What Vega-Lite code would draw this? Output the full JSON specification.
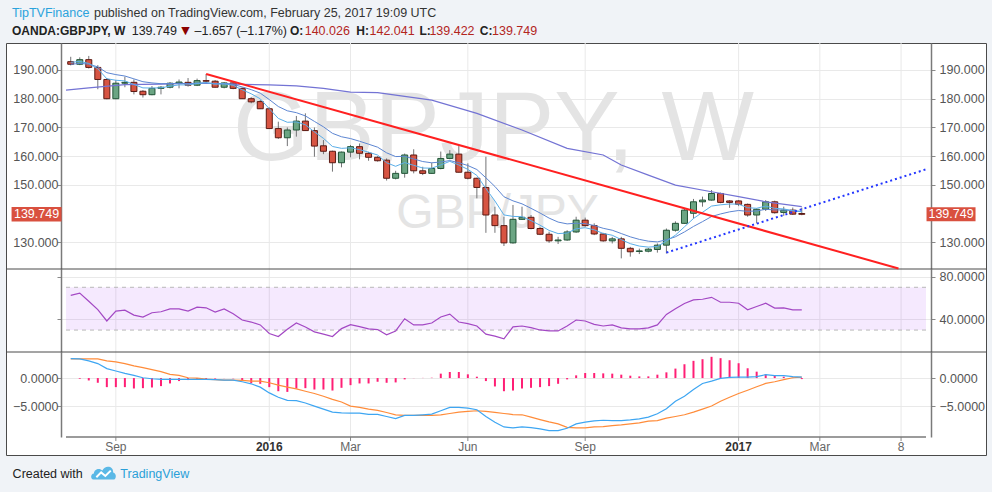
{
  "$schema": "https://vega.github.io/schema/vega-lite/v6.json",
  "width": 980,
  "height": 412,
  "autosize": {"type": "none"},
  "padding": {"left": 6, "top": 43, "right": 6, "bottom": 37},
  "background": "#f0f3f7",
  "data": {"values": [{}]},
  "datasets": {
    "bars": [
      {"date": "2015-08-03", "open": 192.9, "high": 194.6, "low": 191.6, "close": 192.0, "ema5": 192.67, "ema10": 192.0, "rsi": 62.5, "macd": 3.43, "signal": 3.40, "hist": 0},
      {"date": "2015-08-10", "open": 192.0, "high": 194.4, "low": 191.7, "close": 193.6, "ema5": 192.98, "ema10": 192.29, "rsi": 64.6, "macd": 3.40, "signal": 3.40, "hist": -0.12},
      {"date": "2015-08-17", "open": 193.6, "high": 194.9, "low": 190.5, "close": 190.9, "ema5": 192.29, "ema10": 192.04, "rsi": 56.9, "macd": 3.04, "signal": 3.40, "hist": -0.42},
      {"date": "2015-08-24", "open": 190.9, "high": 191.7, "low": 183.3, "close": 186.7, "ema5": 190.43, "ema10": 191.07, "rsi": 49.2, "macd": 2.56, "signal": 3.40, "hist": -0.83},
      {"date": "2015-08-31", "open": 186.7, "high": 187.2, "low": 179.8, "close": 180.0, "ema5": 186.95, "ema10": 189.06, "rsi": 38.5, "macd": 1.67, "signal": 3.04, "hist": -1.60},
      {"date": "2015-09-07", "open": 180.0, "high": 186.5, "low": 179.8, "close": 185.4, "ema5": 186.43, "ema10": 188.39, "rsi": 47.7, "macd": 1.25, "signal": 2.86, "hist": -1.60},
      {"date": "2015-09-14", "open": 185.4, "high": 187.7, "low": 184.0, "close": 185.7, "ema5": 186.19, "ema10": 187.90, "rsi": 48.6, "macd": 0.84, "signal": 2.56, "hist": -1.60},
      {"date": "2015-09-21", "open": 185.7, "high": 186.7, "low": 181.5, "close": 182.5, "ema5": 184.96, "ema10": 186.92, "rsi": 44.0, "macd": 0.48, "signal": 2.15, "hist": -1.84},
      {"date": "2015-09-28", "open": 182.6, "high": 183.0, "low": 180.4, "close": 181.4, "ema5": 183.77, "ema10": 185.92, "rsi": 42.1, "macd": 0.06, "signal": 1.85, "hist": -1.78},
      {"date": "2015-10-05", "open": 181.4, "high": 184.4, "low": 181.2, "close": 183.6, "ema5": 183.71, "ema10": 185.50, "rsi": 46.2, "macd": -0.12, "signal": 1.49, "hist": -1.66},
      {"date": "2015-10-12", "open": 183.6, "high": 184.4, "low": 181.5, "close": 184.0, "ema5": 183.81, "ema10": 185.23, "rsi": 47.1, "macd": -0.23, "signal": 1.13, "hist": -1.42},
      {"date": "2015-10-19", "open": 184.0, "high": 185.8, "low": 183.6, "close": 185.4, "ema5": 184.34, "ema10": 185.26, "rsi": 49.8, "macd": -0.23, "signal": 0.66, "hist": -0.95},
      {"date": "2015-10-26", "open": 185.4, "high": 186.7, "low": 183.6, "close": 185.8, "ema5": 184.83, "ema10": 185.36, "rsi": 49.8, "macd": -0.23, "signal": 0.48, "hist": -0.53},
      {"date": "2015-11-02", "open": 185.7, "high": 187.2, "low": 184.2, "close": 184.7, "ema5": 184.79, "ema10": 185.24, "rsi": 47.7, "macd": -0.23, "signal": 0.06, "hist": -0.35},
      {"date": "2015-11-09", "open": 184.7, "high": 187.0, "low": 184.4, "close": 186.3, "ema5": 185.29, "ema10": 185.43, "rsi": 51.4, "macd": -0.23, "signal": 0.00, "hist": -0.29},
      {"date": "2015-11-16", "open": 186.3, "high": 188.6, "low": 185.4, "close": 186.1, "ema5": 185.56, "ema10": 185.55, "rsi": 50.8, "macd": -0.23, "signal": -0.18, "hist": -0.20},
      {"date": "2015-11-23", "open": 186.1, "high": 186.5, "low": 183.9, "close": 184.0, "ema5": 185.04, "ema10": 185.27, "rsi": 46.8, "macd": -0.29, "signal": -0.29, "hist": -0.10},
      {"date": "2015-11-30", "open": 184.0, "high": 185.8, "low": 183.6, "close": 185.5, "ema5": 185.19, "ema10": 185.31, "rsi": 49.8, "macd": -0.35, "signal": -0.35, "hist": -0.02},
      {"date": "2015-12-07", "open": 185.5, "high": 186.1, "low": 183.3, "close": 183.6, "ema5": 184.66, "ema10": 185.00, "rsi": 45.2, "macd": -0.35, "signal": -0.35, "hist": -0.05},
      {"date": "2015-12-14", "open": 183.6, "high": 183.9, "low": 179.9, "close": 180.0, "ema5": 183.11, "ema10": 184.09, "rsi": 39.4, "macd": -0.65, "signal": -0.41, "hist": -0.42},
      {"date": "2015-12-21", "open": 180.0, "high": 180.5, "low": 178.4, "close": 178.9, "ema5": 181.71, "ema10": 183.15, "rsi": 37.5, "macd": -1.01, "signal": -0.53, "hist": -0.89},
      {"date": "2015-12-28", "open": 179.0, "high": 179.6, "low": 176.4, "close": 176.5, "ema5": 179.97, "ema10": 181.94, "rsi": 34.8, "macd": -1.60, "signal": -0.53, "hist": -1.01},
      {"date": "2016-01-04", "open": 176.5, "high": 177.0, "low": 169.5, "close": 169.6, "ema5": 176.51, "ema10": 179.70, "rsi": 26.8, "macd": -2.62, "signal": -0.83, "hist": -1.60},
      {"date": "2016-01-11", "open": 169.6, "high": 172.0, "low": 166.0, "close": 166.4, "ema5": 173.14, "ema10": 177.28, "rsi": 24.0, "macd": -3.39, "signal": -1.25, "hist": -2.32},
      {"date": "2016-01-18", "open": 166.4, "high": 170.0, "low": 163.5, "close": 169.1, "ema5": 171.79, "ema10": 175.79, "rsi": 30.8, "macd": -3.93, "signal": -1.60, "hist": -2.44},
      {"date": "2016-01-25", "open": 169.1, "high": 174.0, "low": 166.8, "close": 172.2, "ema5": 171.93, "ema10": 175.14, "rsi": 36.6, "macd": -3.98, "signal": -1.90, "hist": -1.84},
      {"date": "2016-02-01", "open": 172.2, "high": 174.9, "low": 168.8, "close": 168.9, "ema5": 170.92, "ema10": 174.01, "rsi": 32.9, "macd": -4.40, "signal": -2.32, "hist": -1.78},
      {"date": "2016-02-08", "open": 168.9, "high": 170.0, "low": 159.8, "close": 163.5, "ema5": 168.45, "ema10": 172.10, "rsi": 28.3, "macd": -4.94, "signal": -2.73, "hist": -2.02},
      {"date": "2016-02-15", "open": 163.6, "high": 165.6, "low": 160.7, "close": 161.7, "ema5": 166.20, "ema10": 170.21, "rsi": 26.2, "macd": -5.47, "signal": -3.21, "hist": -2.02},
      {"date": "2016-02-22", "open": 161.7, "high": 161.9, "low": 154.6, "close": 157.7, "ema5": 163.37, "ema10": 167.94, "rsi": 24.0, "macd": -6.01, "signal": -3.75, "hist": -2.20},
      {"date": "2016-02-29", "open": 157.7, "high": 161.6, "low": 156.1, "close": 161.4, "ema5": 162.71, "ema10": 166.75, "rsi": 31.4, "macd": -6.13, "signal": -4.22, "hist": -1.72},
      {"date": "2016-03-07", "open": 161.4, "high": 163.9, "low": 159.6, "close": 163.3, "ema5": 162.91, "ema10": 166.12, "rsi": 35.1, "macd": -6.19, "signal": -4.94, "hist": -1.25},
      {"date": "2016-03-14", "open": 163.3, "high": 164.4, "low": 158.9, "close": 161.0, "ema5": 162.27, "ema10": 165.19, "rsi": 33.2, "macd": -6.19, "signal": -5.17, "hist": -0.95},
      {"date": "2016-03-21", "open": 161.0, "high": 161.5, "low": 158.4, "close": 159.6, "ema5": 161.38, "ema10": 164.17, "rsi": 31.1, "macd": -6.42, "signal": -5.47, "hist": -0.95},
      {"date": "2016-03-28", "open": 159.6, "high": 160.0, "low": 158.1, "close": 158.4, "ema5": 160.39, "ema10": 163.12, "rsi": 30.5, "macd": -6.42, "signal": -5.71, "hist": -0.65},
      {"date": "2016-04-04", "open": 158.6, "high": 159.2, "low": 151.5, "close": 152.3, "ema5": 157.69, "ema10": 161.15, "rsi": 25.5, "macd": -6.78, "signal": -6.07, "hist": -0.83},
      {"date": "2016-04-11", "open": 152.3, "high": 154.9, "low": 151.9, "close": 154.0, "ema5": 156.46, "ema10": 159.85, "rsi": 29.2, "macd": -7.14, "signal": -6.48, "hist": -0.77},
      {"date": "2016-04-18", "open": 154.0, "high": 160.9, "low": 152.5, "close": 160.4, "ema5": 157.77, "ema10": 159.95, "rsi": 40.6, "macd": -6.60, "signal": -6.60, "hist": -0.23},
      {"date": "2016-04-25", "open": 160.4, "high": 162.4, "low": 154.0, "close": 154.9, "ema5": 156.81, "ema10": 159.03, "rsi": 34.8, "macd": -6.60, "signal": -6.60, "hist": -0.02},
      {"date": "2016-05-02", "open": 154.9, "high": 156.3, "low": 153.4, "close": 154.0, "ema5": 155.87, "ema10": 158.12, "rsi": 34.8, "macd": -6.48, "signal": -6.60, "hist": 0.03},
      {"date": "2016-05-09", "open": 154.0, "high": 157.7, "low": 153.8, "close": 155.7, "ema5": 155.81, "ema10": 157.68, "rsi": 36.6, "macd": -6.36, "signal": -6.60, "hist": 0.06},
      {"date": "2016-05-16", "open": 155.7, "high": 161.6, "low": 155.4, "close": 159.2, "ema5": 156.94, "ema10": 157.96, "rsi": 42.2, "macd": -5.77, "signal": -6.48, "hist": 0.78},
      {"date": "2016-05-23", "open": 159.2, "high": 162.1, "low": 158.9, "close": 160.7, "ema5": 158.19, "ema10": 158.46, "rsi": 44.9, "macd": -5.17, "signal": -6.25, "hist": 1.07},
      {"date": "2016-05-30", "open": 160.7, "high": 163.5, "low": 154.3, "close": 154.4, "ema5": 156.93, "ema10": 157.72, "rsi": 37.5, "macd": -5.17, "signal": -6.01, "hist": 1.07},
      {"date": "2016-06-06", "open": 154.4, "high": 157.5, "low": 151.9, "close": 152.3, "ema5": 155.39, "ema10": 156.73, "rsi": 36.0, "macd": -5.29, "signal": -5.89, "hist": 0.66},
      {"date": "2016-06-13", "open": 152.3, "high": 152.5, "low": 145.3, "close": 149.1, "ema5": 153.29, "ema10": 155.34, "rsi": 33.8, "macd": -5.59, "signal": -5.77, "hist": 0.24},
      {"date": "2016-06-20", "open": 149.1, "high": 159.8, "low": 133.3, "close": 139.5, "ema5": 148.69, "ema10": 152.46, "rsi": 26.2, "macd": -6.78, "signal": -5.89, "hist": -0.53},
      {"date": "2016-06-27", "open": 139.5, "high": 142.4, "low": 133.3, "close": 135.8, "ema5": 144.39, "ema10": 149.43, "rsi": 24.3, "macd": -7.79, "signal": -6.07, "hist": -1.48},
      {"date": "2016-07-04", "open": 135.8, "high": 138.9, "low": 128.7, "close": 129.8, "ema5": 139.53, "ema10": 145.86, "rsi": 21.8, "macd": -8.63, "signal": -6.25, "hist": -2.32},
      {"date": "2016-07-11", "open": 129.8, "high": 143.0, "low": 129.5, "close": 138.0, "ema5": 139.02, "ema10": 144.43, "rsi": 33.0, "macd": -8.78, "signal": -6.44, "hist": -2.20},
      {"date": "2016-07-18", "open": 138.0, "high": 142.4, "low": 137.8, "close": 138.7, "ema5": 138.91, "ema10": 143.39, "rsi": 33.8, "macd": -8.63, "signal": -6.48, "hist": -1.84},
      {"date": "2016-07-25", "open": 138.7, "high": 139.5, "low": 134.5, "close": 134.8, "ema5": 137.54, "ema10": 141.83, "rsi": 32.3, "macd": -8.75, "signal": -6.90, "hist": -1.72},
      {"date": "2016-08-01", "open": 134.8, "high": 135.4, "low": 132.5, "close": 132.8, "ema5": 135.96, "ema10": 140.19, "rsi": 30.1, "macd": -8.98, "signal": -7.32, "hist": -1.60},
      {"date": "2016-08-08", "open": 132.8, "high": 133.7, "low": 129.8, "close": 130.5, "ema5": 134.14, "ema10": 138.43, "rsi": 29.2, "macd": -9.28, "signal": -7.73, "hist": -1.42},
      {"date": "2016-08-15", "open": 130.5, "high": 131.9, "low": 129.4, "close": 130.8, "ema5": 133.03, "ema10": 137.04, "rsi": 29.2, "macd": -9.28, "signal": -8.09, "hist": -1.01},
      {"date": "2016-08-22", "open": 130.8, "high": 134.2, "low": 130.5, "close": 133.6, "ema5": 133.22, "ema10": 136.41, "rsi": 33.8, "macd": -8.86, "signal": -8.69, "hist": -0.23},
      {"date": "2016-08-29", "open": 133.6, "high": 138.9, "low": 133.3, "close": 137.7, "ema5": 134.71, "ema10": 136.64, "rsi": 39.4, "macd": -8.09, "signal": -8.80, "hist": 0.48},
      {"date": "2016-09-05", "open": 137.7, "high": 138.6, "low": 135.4, "close": 135.8, "ema5": 135.07, "ema10": 136.49, "rsi": 38.5, "macd": -7.79, "signal": -8.80, "hist": 0.89},
      {"date": "2016-09-12", "open": 135.8, "high": 136.6, "low": 132.5, "close": 132.9, "ema5": 134.35, "ema10": 135.84, "rsi": 35.4, "macd": -7.55, "signal": -8.63, "hist": 0.89},
      {"date": "2016-09-19", "open": 132.9, "high": 133.3, "low": 130.2, "close": 130.5, "ema5": 133.07, "ema10": 134.87, "rsi": 33.8, "macd": -7.44, "signal": -8.57, "hist": 0.83},
      {"date": "2016-09-26", "open": 130.5, "high": 131.9, "low": 129.6, "close": 131.2, "ema5": 132.45, "ema10": 134.20, "rsi": 34.8, "macd": -7.50, "signal": -8.39, "hist": 0.78},
      {"date": "2016-10-03", "open": 131.2, "high": 131.9, "low": 124.4, "close": 127.9, "ema5": 130.93, "ema10": 133.05, "rsi": 32.0, "macd": -7.50, "signal": -8.27, "hist": 0.60},
      {"date": "2016-10-10", "open": 127.9, "high": 128.4, "low": 125.0, "close": 126.7, "ema5": 129.52, "ema10": 131.90, "rsi": 31.1, "macd": -7.38, "signal": -8.09, "hist": 0.42},
      {"date": "2016-10-17", "open": 126.8, "high": 127.8, "low": 125.9, "close": 127.0, "ema5": 128.68, "ema10": 131.01, "rsi": 31.1, "macd": -7.20, "signal": -7.91, "hist": 0.30},
      {"date": "2016-10-24", "open": 126.9, "high": 128.0, "low": 126.5, "close": 127.6, "ema5": 128.32, "ema10": 130.39, "rsi": 32.0, "macd": -6.90, "signal": -7.61, "hist": 0.30},
      {"date": "2016-10-31", "open": 127.5, "high": 129.6, "low": 126.4, "close": 129.0, "ema5": 128.55, "ema10": 130.14, "rsi": 34.8, "macd": -6.31, "signal": -7.50, "hist": 0.60},
      {"date": "2016-11-07", "open": 129.0, "high": 134.8, "low": 126.1, "close": 134.2, "ema5": 130.43, "ema10": 130.88, "rsi": 44.6, "macd": -5.41, "signal": -7.08, "hist": 1.01},
      {"date": "2016-11-14", "open": 134.2, "high": 137.3, "low": 133.7, "close": 136.6, "ema5": 132.49, "ema10": 131.92, "rsi": 49.9, "macd": -4.10, "signal": -6.78, "hist": 1.67},
      {"date": "2016-11-21", "open": 136.6, "high": 141.7, "low": 136.4, "close": 141.2, "ema5": 135.39, "ema10": 133.61, "rsi": 54.8, "macd": -3.21, "signal": -6.48, "hist": 2.44},
      {"date": "2016-11-28", "open": 140.1, "high": 145.1, "low": 138.3, "close": 144.1, "ema5": 138.29, "ema10": 135.52, "rsi": 58.2, "macd": -2.02, "signal": -6.01, "hist": 3.04},
      {"date": "2016-12-05", "open": 144.1, "high": 145.9, "low": 142.4, "close": 144.7, "ema5": 140.43, "ema10": 137.19, "rsi": 58.8, "macd": -0.95, "signal": -5.47, "hist": 3.33},
      {"date": "2016-12-12", "open": 144.7, "high": 148.2, "low": 144.5, "close": 147.0, "ema5": 142.62, "ema10": 138.97, "rsi": 60.6, "macd": -0.53, "signal": -4.94, "hist": 3.75},
      {"date": "2016-12-19", "open": 147.0, "high": 147.3, "low": 143.6, "close": 143.9, "ema5": 143.05, "ema10": 139.87, "rsi": 56.0, "macd": -0.06, "signal": -4.10, "hist": 3.51},
      {"date": "2016-12-26", "open": 144.4, "high": 144.7, "low": 142.0, "close": 143.9, "ema5": 143.33, "ema10": 140.60, "rsi": 56.0, "macd": 0.12, "signal": -3.39, "hist": 3.15},
      {"date": "2017-01-02", "open": 144.4, "high": 144.7, "low": 142.6, "close": 143.2, "ema5": 143.29, "ema10": 141.07, "rsi": 55.1, "macd": 0.18, "signal": -2.73, "hist": 2.62},
      {"date": "2017-01-09", "open": 143.2, "high": 143.5, "low": 138.9, "close": 139.5, "ema5": 142.03, "ema10": 140.78, "rsi": 48.9, "macd": 0.18, "signal": -2.14, "hist": 1.73},
      {"date": "2017-01-16", "open": 139.5, "high": 141.8, "low": 136.6, "close": 141.5, "ema5": 141.85, "ema10": 140.91, "rsi": 52.0, "macd": 0.24, "signal": -1.54, "hist": 1.13},
      {"date": "2017-01-23", "open": 141.5, "high": 144.7, "low": 140.9, "close": 144.1, "ema5": 142.60, "ema10": 141.49, "rsi": 55.1, "macd": 0.60, "signal": -0.95, "hist": 0.66},
      {"date": "2017-01-30", "open": 144.1, "high": 144.5, "low": 140.0, "close": 140.3, "ema5": 141.83, "ema10": 141.27, "rsi": 50.5, "macd": 0.42, "signal": -0.65, "hist": 0.48},
      {"date": "2017-02-06", "open": 140.4, "high": 142.4, "low": 139.2, "close": 141.2, "ema5": 141.62, "ema10": 141.26, "rsi": 50.8, "macd": 0.42, "signal": -0.29, "hist": 0.24},
      {"date": "2017-02-13", "open": 141.2, "high": 142.1, "low": 139.5, "close": 139.8, "ema5": 141.01, "ema10": 140.99, "rsi": 48.9, "macd": 0.24, "signal": 0.06, "hist": 0.06},
      {"date": "2017-02-20", "open": 140.026, "high": 142.041, "low": 139.422, "close": 139.749, "ema5": 140.59, "ema10": 140.76, "rsi": 48.9, "macd": 0.18, "signal": 0.18, "hist": -0.18}
    ],
    "slow": [
      {"date": "2015-07-30T08:00:00Z", "v": 183.0},
      {"date": "2015-08-17", "v": 183.8},
      {"date": "2015-09-14", "v": 184.9},
      {"date": "2015-10-12", "v": 185.1},
      {"date": "2015-11-02", "v": 185.3},
      {"date": "2015-11-23", "v": 185.3},
      {"date": "2015-12-14", "v": 185.0},
      {"date": "2016-01-04", "v": 184.8},
      {"date": "2016-01-25", "v": 184.5},
      {"date": "2016-02-15", "v": 183.6},
      {"date": "2016-03-07", "v": 182.3},
      {"date": "2016-03-28", "v": 182.1},
      {"date": "2016-04-18", "v": 180.8},
      {"date": "2016-05-09", "v": 179.5},
      {"date": "2016-06-13", "v": 174.9},
      {"date": "2016-07-18", "v": 169.1},
      {"date": "2016-08-22", "v": 162.7},
      {"date": "2016-09-19", "v": 160.4},
      {"date": "2016-10-03", "v": 156.9},
      {"date": "2016-10-24", "v": 153.4},
      {"date": "2016-11-14", "v": 149.9},
      {"date": "2016-12-12", "v": 147.6},
      {"date": "2017-01-02", "v": 145.9},
      {"date": "2017-01-23", "v": 144.1},
      {"date": "2017-02-20", "v": 142.4}
    ],
    "red": [
      {"date": "2015-11-16", "p": 188.6},
      {"date": "2017-05-06", "p": 120.9}
    ],
    "blue": [
      {"date": "2016-11-07", "p": 126.4},
      {"date": "2017-05-27T08:00:00Z", "p": 155.4}
    ],
    "ticks": [
      {"date": "2015-09-07", "label": "Sep", "year": false},
      {"date": "2016-01-04", "label": "2016", "year": true},
      {"date": "2016-03-07", "label": "Mar", "year": false},
      {"date": "2016-06-06", "label": "Jun", "year": false},
      {"date": "2016-09-05", "label": "Sep", "year": false},
      {"date": "2017-01-02", "label": "2017", "year": true},
      {"date": "2017-03-06", "label": "Mar", "year": false},
      {"date": "2017-05-08", "label": "8", "year": false}
    ],
    "bands": [{"lvl": 70}, {"lvl": 30}],
    "last": [{"close": 139.749}]
  },
  "resolve": {"scale": {"y": "independent"}, "axis": {"y": "independent"}},
  "layer": [
    {
      "data": {"name": "ticks"},
      "mark": {"type": "rule", "color": "#e9e9e9", "strokeWidth": 1},
      "encoding": {
        "x": {
          "field": "date",
          "type": "temporal",
          "scale": {
            "domain": [
              {"year": 2015, "month": 7, "date": 30, "hours": 8, "utc": true},
              {"year": 2017, "month": 5, "date": 27, "hours": 8, "utc": true}
            ],
            "range": [55, 925]
          },
          "axis": null
        },
        "y": {"datum": -10.4, "type": "quantitative", "scale": {"domain": [-10.4, 4.6], "range": [394, 309], "nice": false, "zero": false}, "axis": null},
        "y2": {"datum": 59.13}
      }
    },
    {
      "data": {"name": "ticks"},
      "mark": {"type": "rule", "color": "#8a8a8a", "strokeWidth": 1},
      "encoding": {
        "x": {"field": "date", "type": "temporal", "axis": null},
        "y": {"datum": -10.4, "type": "quantitative", "scale": {"domain": [-10.4, 4.6], "range": [394, 309], "nice": false, "zero": false}, "axis": null},
        "y2": {"datum": -11.11}
      }
    },
    {
      "data": {"name": "ticks"},
      "transform": [{"filter": "!datum.year"}],
      "mark": {"type": "text", "font": "Liberation Sans", "fontSize": 12, "color": "#666666", "align": "center", "baseline": "middle"},
      "encoding": {
        "x": {"field": "date", "type": "temporal", "axis": null},
        "y": {"datum": -12.1, "type": "quantitative", "scale": {"domain": [-10.4, 4.6], "range": [394, 309], "nice": false, "zero": false}, "axis": null},
        "text": {"field": "label"}
      }
    },
    {
      "data": {"name": "ticks"},
      "transform": [{"filter": "datum.year"}],
      "mark": {"type": "text", "font": "Liberation Sans", "fontSize": 12, "fontWeight": "bold", "color": "#333333", "align": "center", "baseline": "middle"},
      "encoding": {
        "x": {"field": "date", "type": "temporal", "axis": null},
        "y": {"datum": -12.1, "type": "quantitative", "scale": {"domain": [-10.4, 4.6], "range": [394, 309], "nice": false, "zero": false}, "axis": null},
        "text": {"field": "label"}
      }
    },
    {
      "mark": {"type": "rule", "color": "#7a7a7a", "strokeWidth": 1.5},
      "encoding": {
        "x": {"datum": {"year": 2015, "month": 7, "date": 30, "hours": 8, "utc": true}, "type": "temporal", "axis": null},
        "x2": {"datum": {"year": 2017, "month": 5, "date": 27, "hours": 8, "utc": true}},
        "y": {"datum": -10.4, "type": "quantitative", "scale": {"domain": [-10.4, 4.6], "range": [394, 309], "nice": false, "zero": false}, "axis": null}
      }
    },
    {
      "data": {"name": "bars"},
      "mark": {"type": "rule", "color": "#ff1f75", "strokeWidth": 2},
      "encoding": {
        "x": {"field": "date", "type": "temporal", "axis": null},
        "y": {
          "field": "hist",
          "type": "quantitative",
          "scale": {"domain": [-10.4, 4.6], "range": [394, 309], "nice": false, "zero": false},
          "axis": {"title": null, "orient": "left", "offset": -55, "values": [0, -5], "format": ".4f", "grid": true, "tickSize": 4, "labelPadding": -1}
        },
        "y2": {"datum": 0}
      }
    },
    {
      "data": {"name": "bars"},
      "mark": {"type": "line", "color": "#ff8c3a", "strokeWidth": 1.2},
      "encoding": {
        "x": {"field": "date", "type": "temporal", "axis": null},
        "y": {
          "field": "signal",
          "type": "quantitative",
          "scale": {"domain": [-10.4, 4.6], "range": [394, 309], "nice": false, "zero": false},
          "axis": {"title": null, "orient": "right", "offset": -55, "values": [0, -5], "format": ".4f", "grid": false, "tickSize": 4, "labelPadding": 4}
        }
      }
    },
    {
      "data": {"name": "bars"},
      "mark": {"type": "line", "color": "#3ea6f2", "strokeWidth": 1.2},
      "encoding": {
        "x": {"field": "date", "type": "temporal", "axis": null},
        "y": {"field": "macd", "type": "quantitative", "scale": {"domain": [-10.4, 4.6], "range": [394, 309], "nice": false, "zero": false}, "axis": null}
      }
    },
    {
      "mark": {"type": "rect", "color": "#9c27f5", "opacity": 0.1},
      "encoding": {
        "x": {"datum": {"year": 2015, "month": 7, "date": 30, "hours": 8, "utc": true}, "type": "temporal", "axis": null},
        "x2": {"datum": {"year": 2017, "month": 5, "date": 27, "hours": 8, "utc": true}},
        "y": {"datum": 30, "type": "quantitative", "scale": {"domain": [9.5, 87.1], "range": [309, 226], "nice": false, "zero": false}, "axis": null},
        "y2": {"datum": 70}
      }
    },
    {
      "data": {"name": "bands"},
      "mark": {"type": "rule", "color": "#b8b8b8", "strokeDash": [4, 4], "strokeWidth": 1},
      "encoding": {
        "x": {"datum": {"year": 2015, "month": 7, "date": 30, "hours": 8, "utc": true}, "type": "temporal", "axis": null},
        "x2": {"datum": {"year": 2017, "month": 5, "date": 27, "hours": 8, "utc": true}},
        "y": {
          "field": "lvl",
          "type": "quantitative",
          "scale": {"domain": [9.5, 87.1], "range": [309, 226], "nice": false, "zero": false},
          "axis": {"title": null, "orient": "left", "offset": -55, "values": [40, 80], "labels": false, "grid": true, "tickSize": 4}
        }
      }
    },
    {
      "mark": {"type": "rule", "color": "#4a4a4a", "strokeWidth": 1},
      "encoding": {
        "y": {"datum": 87.1, "type": "quantitative", "scale": {"domain": [9.5, 87.1], "range": [309, 226], "nice": false, "zero": false}, "axis": null}
      }
    },
    {
      "mark": {"type": "rule", "color": "#4a4a4a", "strokeWidth": 1},
      "encoding": {
        "y": {"datum": 9.5, "type": "quantitative", "scale": {"domain": [9.5, 87.1], "range": [309, 226], "nice": false, "zero": false}, "axis": null}
      }
    },
    {
      "data": {"name": "bars"},
      "mark": {"type": "line", "color": "#a348c4", "strokeWidth": 1.2},
      "encoding": {
        "x": {"field": "date", "type": "temporal", "axis": null},
        "y": {
          "field": "rsi",
          "type": "quantitative",
          "scale": {"domain": [9.5, 87.1], "range": [309, 226], "nice": false, "zero": false},
          "axis": {"title": null, "orient": "right", "offset": -55, "values": [40, 80], "format": ".4f", "grid": false, "tickSize": 4, "labelPadding": 4}
        }
      }
    },
    {
      "mark": {"type": "text", "text": "GBPJPY, W", "font": "Liberation Sans", "fontSize": 98, "color": "#e4e4e4", "align": "center", "baseline": "alphabetic"},
      "encoding": {
        "x": {"datum": {"year": 2016, "month": 6, "date": 25, "hours": 22, "utc": true}, "type": "temporal", "axis": null},
        "y": {"datum": 158.66, "type": "quantitative", "scale": {"domain": [120.7, 199.4], "range": [226, 0], "nice": false, "zero": false}, "axis": null}
      }
    },
    {
      "mark": {"type": "text", "text": "GBP/JPY", "font": "Liberation Sans", "fontSize": 48, "color": "#e4e4e4", "align": "center", "baseline": "alphabetic"},
      "encoding": {
        "x": {"datum": {"year": 2016, "month": 6, "date": 29, "utc": true}, "type": "temporal", "axis": null},
        "y": {"datum": 134.87, "type": "quantitative", "scale": {"domain": [120.7, 199.4], "range": [226, 0], "nice": false, "zero": false}, "axis": null}
      }
    },
    {
      "data": {"name": "bars"},
      "mark": {"type": "rule", "color": "#737375", "strokeWidth": 1},
      "encoding": {
        "x": {"field": "date", "type": "temporal", "axis": null},
        "y": {
          "field": "low",
          "type": "quantitative",
          "scale": {"domain": [120.7, 199.4], "range": [226, 0], "nice": false, "zero": false},
          "axis": {"title": null, "orient": "left", "offset": -55, "values": [130, 150, 160, 170, 180, 190], "format": ".3f", "grid": true, "tickSize": 4, "labelPadding": -1}
        },
        "y2": {"field": "high"}
      }
    },
    {
      "data": {"name": "bars"},
      "mark": {"type": "bar", "width": 6, "strokeWidth": 1},
      "encoding": {
        "x": {"field": "date", "type": "temporal", "axis": null},
        "y": {"field": "open", "type": "quantitative", "scale": {"domain": [120.7, 199.4], "range": [226, 0], "nice": false, "zero": false}, "axis": null},
        "y2": {"field": "close"},
        "fill": {"condition": {"test": "datum.close >= datum.open", "value": "#6ba583"}, "value": "#d75442"},
        "stroke": {"condition": {"test": "datum.close >= datum.open", "value": "#225437"}, "value": "#5b1a13"}
      }
    },
    {
      "data": {"name": "slow"},
      "mark": {"type": "line", "color": "#7373d4", "strokeWidth": 1.2},
      "encoding": {
        "x": {"field": "date", "type": "temporal", "axis": null},
        "y": {"field": "v", "type": "quantitative", "scale": {"domain": [120.7, 199.4], "range": [226, 0], "nice": false, "zero": false}, "axis": null}
      }
    },
    {
      "data": {"name": "bars"},
      "mark": {"type": "line", "color": "#5d86d2", "strokeWidth": 1},
      "encoding": {
        "x": {"field": "date", "type": "temporal", "axis": null},
        "y": {"field": "ema10", "type": "quantitative", "scale": {"domain": [120.7, 199.4], "range": [226, 0], "nice": false, "zero": false}, "axis": null}
      }
    },
    {
      "data": {"name": "bars"},
      "mark": {"type": "line", "color": "#5aaee8", "strokeWidth": 1},
      "encoding": {
        "x": {"field": "date", "type": "temporal", "axis": null},
        "y": {"field": "ema5", "type": "quantitative", "scale": {"domain": [120.7, 199.4], "range": [226, 0], "nice": false, "zero": false}, "axis": null}
      }
    },
    {
      "data": {"name": "red"},
      "mark": {"type": "line", "color": "#ff2020", "strokeWidth": 2},
      "encoding": {
        "x": {"field": "date", "type": "temporal", "axis": null},
        "y": {"field": "p", "type": "quantitative", "scale": {"domain": [120.7, 199.4], "range": [226, 0], "nice": false, "zero": false}, "axis": null}
      }
    },
    {
      "data": {"name": "blue"},
      "mark": {"type": "line", "color": "#2336ff", "strokeWidth": 2, "strokeDash": [2, 3]},
      "encoding": {
        "x": {"field": "date", "type": "temporal", "axis": null},
        "y": {"field": "p", "type": "quantitative", "scale": {"domain": [120.7, 199.4], "range": [226, 0], "nice": false, "zero": false}, "axis": null}
      }
    },
    {
      "mark": {"type": "text", "text": "TipTVFinance", "font": "Liberation Sans", "fontSize": 12.5, "color": "#2ba2dc", "align": "left", "baseline": "middle"},
      "encoding": {
        "x": {"datum": {"year": 2015, "month": 6, "date": 18, "hours": 11, "utc": true}, "type": "temporal", "axis": null},
        "y": {"datum": 209.78, "type": "quantitative", "scale": {"domain": [120.7, 199.4], "range": [226, 0], "nice": false, "zero": false}, "axis": null}
      }
    },
    {
      "mark": {"type": "text", "text": "published on TradingView.com, February 25, 2017 19:09 UTC", "font": "Liberation Sans", "fontSize": 12.5, "color": "#333333", "align": "left", "baseline": "middle"},
      "encoding": {
        "x": {"datum": {"year": 2015, "month": 8, "date": 21, "utc": true}, "type": "temporal", "axis": null},
        "y": {"datum": 209.78, "type": "quantitative", "scale": {"domain": [120.7, 199.4], "range": [226, 0], "nice": false, "zero": false}, "axis": null}
      }
    },
    {
      "mark": {"type": "text", "text": "OANDA:GBPJPY, W", "font": "Liberation Sans", "fontSize": 12, "fontWeight": "bold", "color": "#222222", "align": "left", "baseline": "middle"},
      "encoding": {
        "x": {"datum": {"year": 2015, "month": 6, "date": 18, "hours": 11, "utc": true}, "type": "temporal", "axis": null},
        "y": {"datum": 203.44, "type": "quantitative", "scale": {"domain": [120.7, 199.4], "range": [226, 0], "nice": false, "zero": false}, "axis": null}
      }
    },
    {
      "mark": {"type": "text", "text": "139.749", "font": "Liberation Sans", "fontSize": 12.5, "color": "#222222", "align": "left", "baseline": "middle"},
      "encoding": {
        "x": {"datum": {"year": 2015, "month": 9, "date": 19, "hours": 7, "utc": true}, "type": "temporal", "axis": null},
        "y": {"datum": 203.44, "type": "quantitative", "scale": {"domain": [120.7, 199.4], "range": [226, 0], "nice": false, "zero": false}, "axis": null}
      }
    },
    {
      "mark": {"type": "text", "text": "▼", "font": "DejaVu Sans", "fontSize": 11, "color": "#8b0000", "align": "left", "baseline": "middle"},
      "encoding": {
        "x": {"datum": {"year": 2015, "month": 10, "date": 27, "hours": 15, "utc": true}, "type": "temporal", "axis": null},
        "y": {"datum": 203.44, "type": "quantitative", "scale": {"domain": [120.7, 199.4], "range": [226, 0], "nice": false, "zero": false}, "axis": null}
      }
    },
    {
      "mark": {"type": "text", "text": "–1.657 (–1.17%)", "font": "Liberation Sans", "fontSize": 12.5, "color": "#222222", "align": "left", "baseline": "middle"},
      "encoding": {
        "x": {"datum": {"year": 2015, "month": 11, "date": 7, "utc": true}, "type": "temporal", "axis": null},
        "y": {"datum": 203.44, "type": "quantitative", "scale": {"domain": [120.7, 199.4], "range": [226, 0], "nice": false, "zero": false}, "axis": null}
      }
    },
    {
      "mark": {"type": "text", "text": "O:", "font": "Liberation Sans", "fontSize": 12, "fontWeight": "bold", "color": "#222222", "align": "left", "baseline": "middle"},
      "encoding": {
        "x": {"datum": {"year": 2016, "month": 1, "date": 20, "utc": true}, "type": "temporal", "axis": null},
        "y": {"datum": 203.44, "type": "quantitative", "scale": {"domain": [120.7, 199.4], "range": [226, 0], "nice": false, "zero": false}, "axis": null}
      }
    },
    {
      "mark": {"type": "text", "text": "140.026", "font": "Liberation Sans", "fontSize": 12.5, "color": "#b3261e", "align": "left", "baseline": "middle"},
      "encoding": {
        "x": {"datum": {"year": 2016, "month": 1, "date": 31, "hours": 11, "utc": true}, "type": "temporal", "axis": null},
        "y": {"datum": 203.44, "type": "quantitative", "scale": {"domain": [120.7, 199.4], "range": [226, 0], "nice": false, "zero": false}, "axis": null}
      }
    },
    {
      "mark": {"type": "text", "text": "H:", "font": "Liberation Sans", "fontSize": 12, "fontWeight": "bold", "color": "#222222", "align": "left", "baseline": "middle"},
      "encoding": {
        "x": {"datum": {"year": 2016, "month": 3, "date": 11, "hours": 10, "utc": true}, "type": "temporal", "axis": null},
        "y": {"datum": 203.44, "type": "quantitative", "scale": {"domain": [120.7, 199.4], "range": [226, 0], "nice": false, "zero": false}, "axis": null}
      }
    },
    {
      "mark": {"type": "text", "text": "142.041", "font": "Liberation Sans", "fontSize": 12.5, "color": "#b3261e", "align": "left", "baseline": "middle"},
      "encoding": {
        "x": {"datum": {"year": 2016, "month": 3, "date": 21, "hours": 17, "utc": true}, "type": "temporal", "axis": null},
        "y": {"datum": 203.44, "type": "quantitative", "scale": {"domain": [120.7, 199.4], "range": [226, 0], "nice": false, "zero": false}, "axis": null}
      }
    },
    {
      "mark": {"type": "text", "text": "L:", "font": "Liberation Sans", "fontSize": 12, "fontWeight": "bold", "color": "#222222", "align": "left", "baseline": "middle"},
      "encoding": {
        "x": {"datum": {"year": 2016, "month": 4, "date": 29, "hours": 12, "utc": true}, "type": "temporal", "axis": null},
        "y": {"datum": 203.44, "type": "quantitative", "scale": {"domain": [120.7, 199.4], "range": [226, 0], "nice": false, "zero": false}, "axis": null}
      }
    },
    {
      "mark": {"type": "text", "text": "139.422", "font": "Liberation Sans", "fontSize": 12.5, "color": "#b3261e", "align": "left", "baseline": "middle"},
      "encoding": {
        "x": {"datum": {"year": 2016, "month": 5, "date": 7, "hours": 4, "utc": true}, "type": "temporal", "axis": null},
        "y": {"datum": 203.44, "type": "quantitative", "scale": {"domain": [120.7, 199.4], "range": [226, 0], "nice": false, "zero": false}, "axis": null}
      }
    },
    {
      "mark": {"type": "text", "text": "C:", "font": "Liberation Sans", "fontSize": 12, "fontWeight": "bold", "color": "#222222", "align": "left", "baseline": "middle"},
      "encoding": {
        "x": {"datum": {"year": 2016, "month": 6, "date": 15, "hours": 6, "utc": true}, "type": "temporal", "axis": null},
        "y": {"datum": 203.44, "type": "quantitative", "scale": {"domain": [120.7, 199.4], "range": [226, 0], "nice": false, "zero": false}, "axis": null}
      }
    },
    {
      "mark": {"type": "text", "text": "139.749", "font": "Liberation Sans", "fontSize": 12.5, "color": "#b3261e", "align": "left", "baseline": "middle"},
      "encoding": {
        "x": {"datum": {"year": 2016, "month": 6, "date": 24, "hours": 18, "utc": true}, "type": "temporal", "axis": null},
        "y": {"datum": 203.44, "type": "quantitative", "scale": {"domain": [120.7, 199.4], "range": [226, 0], "nice": false, "zero": false}, "axis": null}
      }
    },
    {
      "mark": {"type": "text", "text": "Created with", "font": "Liberation Sans", "fontSize": 12.5, "color": "#222222", "align": "left", "baseline": "middle"},
      "encoding": {
        "x": {"datum": {"year": 2015, "month": 6, "date": 18, "hours": 22, "utc": true}, "type": "temporal", "axis": null},
        "y": {"datum": 49.31, "type": "quantitative", "scale": {"domain": [120.7, 199.4], "range": [226, 0], "nice": false, "zero": false}, "axis": null}
      }
    },
    {
      "mark": {"type": "point", "shape": "M-0.85,0.55C-1.1,0.55 -1.1,0.05 -0.8,0.05C-0.8,-0.35 -0.3,-0.45 -0.1,-0.2C0.1,-0.7 0.85,-0.6 0.8,-0.05C1.1,0 1.1,0.55 0.8,0.55Z", "size": 576, "filled": true, "color": "#5ab8e6", "opacity": 1},
      "encoding": {
        "x": {"datum": {"year": 2015, "month": 8, "date": 28, "hours": 11, "utc": true}, "type": "temporal", "axis": null},
        "y": {"datum": 49.66, "type": "quantitative", "scale": {"domain": [120.7, 199.4], "range": [226, 0], "nice": false, "zero": false}, "axis": null}
      }
    },
    {
      "mark": {"type": "point", "shape": "M-0.6,0.35L-0.2,-0.05L0.15,0.25L0.6,-0.2", "size": 576, "filled": false, "color": "white", "strokeWidth": 2, "opacity": 1},
      "encoding": {
        "x": {"datum": {"year": 2015, "month": 8, "date": 28, "hours": 11, "utc": true}, "type": "temporal", "axis": null},
        "y": {"datum": 49.66, "type": "quantitative", "scale": {"domain": [120.7, 199.4], "range": [226, 0], "nice": false, "zero": false}, "axis": null}
      }
    },
    {
      "mark": {"type": "text", "text": "TradingView", "font": "Liberation Sans", "fontSize": 12.5, "color": "#2a9fd8", "align": "left", "baseline": "middle"},
      "encoding": {
        "x": {"datum": {"year": 2015, "month": 9, "date": 10, "hours": 12, "utc": true}, "type": "temporal", "axis": null},
        "y": {"datum": 49.31, "type": "quantitative", "scale": {"domain": [120.7, 199.4], "range": [226, 0], "nice": false, "zero": false}, "axis": null}
      }
    },
    {
      "data": {"name": "last"},
      "mark": {"type": "point", "shape": "M-1,-0.286H1V0.286H-1Z", "size": 2401, "filled": true, "color": "#d9503f", "opacity": 1},
      "encoding": {
        "x": {"datum": {"year": 2017, "month": 6, "date": 15, "hours": 18, "utc": true}, "type": "temporal", "axis": null},
        "y": {
          "field": "close",
          "type": "quantitative",
          "scale": {"domain": [120.7, 199.4], "range": [226, 0], "nice": false, "zero": false},
          "axis": {"title": null, "orient": "right", "offset": -55, "values": [130, 150, 160, 170, 180, 190], "format": ".3f", "grid": false, "tickSize": 4, "labelPadding": 4}
        }
      }
    },
    {
      "data": {"name": "last"},
      "mark": {"type": "text", "font": "Liberation Sans", "fontSize": 12.5, "color": "white", "align": "center", "baseline": "middle"},
      "encoding": {
        "x": {"datum": {"year": 2017, "month": 6, "date": 15, "hours": 18, "utc": true}, "type": "temporal", "axis": null},
        "y": {"field": "close", "type": "quantitative", "scale": {"domain": [120.7, 199.4], "range": [226, 0], "nice": false, "zero": false}, "axis": null},
        "text": {"field": "close", "type": "quantitative", "format": ".3f"}
      }
    },
    {
      "data": {"name": "last"},
      "mark": {"type": "point", "shape": "M-1,-0.29H1V0.29H-1Z", "size": 2500, "filled": true, "color": "#d9503f", "opacity": 1},
      "encoding": {
        "x": {"datum": {"year": 2015, "month": 7, "date": 7, "hours": 12, "utc": true}, "type": "temporal", "axis": null},
        "y": {"field": "close", "type": "quantitative", "scale": {"domain": [120.7, 199.4], "range": [226, 0], "nice": false, "zero": false}, "axis": null}
      }
    },
    {
      "data": {"name": "last"},
      "mark": {"type": "text", "font": "Liberation Sans", "fontSize": 12.5, "color": "white", "align": "center", "baseline": "middle"},
      "encoding": {
        "x": {"datum": {"year": 2015, "month": 7, "date": 7, "hours": 12, "utc": true}, "type": "temporal", "axis": null},
        "y": {"field": "close", "type": "quantitative", "scale": {"domain": [120.7, 199.4], "range": [226, 0], "nice": false, "zero": false}, "axis": null},
        "text": {"field": "close", "type": "quantitative", "format": ".3f"}
      }
    }
  ],
  "config": {
    "font": "Liberation Sans",
    "view": {"fill": "white", "stroke": "#4a4a4a", "strokeWidth": 1},
    "axis": {
      "labelFont": "Liberation Sans",
      "labelFontSize": 12.5,
      "labelColor": "#555555",
      "tickColor": "#8a8a8a",
      "domainColor": "#7a7a7a",
      "domainWidth": 1.5,
      "gridColor": "#e9e9e9",
      "gridWidth": 1
    }
  }
}
